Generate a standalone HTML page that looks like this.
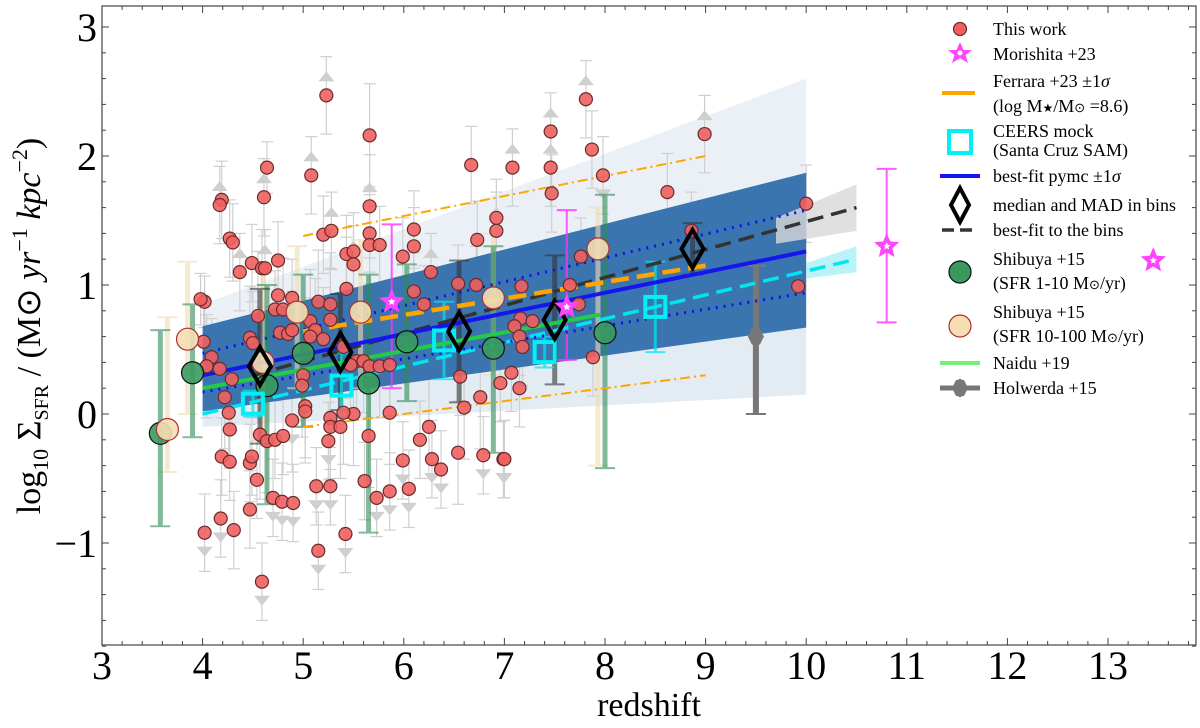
<!DOCTYPE html>
<html><head><meta charset="utf-8"><style>
html,body{margin:0;padding:0;background:#fff}
svg{display:block;font-family:"Liberation Serif","DejaVu Serif",serif}
</style></head><body>
<svg id="chart" width="1200" height="728" viewBox="0 0 1200 728" xmlns="http://www.w3.org/2000/svg">
<g id="layer"></g>
<text x="649" y="716" font-size="34" text-anchor="middle" font-family="Liberation Serif,serif">redshift</text>
<text transform="translate(40,326) rotate(-90)" font-size="34" text-anchor="middle" font-family="Liberation Serif,serif">log<tspan font-size="22" dy="8">10</tspan><tspan dy="-8"> Σ</tspan><tspan font-size="20" dy="8">SFR</tspan><tspan dy="-8"> / (M</tspan><tspan>⊙</tspan><tspan font-style="italic"> yr</tspan><tspan font-size="22" dy="-13">−1</tspan><tspan font-style="italic" dy="13"> kpc</tspan><tspan font-size="22" dy="-13">−2</tspan><tspan dy="13">)</tspan></text>
<g font-size="18" font-family="Liberation Serif,serif">
<g><circle cx="960" cy="29" r="6.5" fill="#f06060" stroke="#6b2a2a" stroke-width="1.2"/><text x="993" y="35">This work</text></g>
<g><polygon points="960,42 963.5,50 972,50 965.5,55 968,63 960,58 952,63 954.5,55 948,50 956.5,50" fill="#ff44ff"/><circle cx="960" cy="53" r="2.5" fill="#fff"/><text x="993" y="60">Morishita +23</text></g>
<g><line x1="942" x2="975" y1="93" y2="93" stroke="#ffa500" stroke-width="4"/><text x="993" y="87">Ferrara +23 ±1<tspan font-style="italic">σ</tspan></text><text x="993" y="112">(log  M<tspan font-size="12">★</tspan>/M<tspan font-size="13">⊙</tspan>  =8.6)</text></g>
<g><rect x="949" y="131" width="22" height="22" fill="none" stroke="#00f0f5" stroke-width="4"/><text x="993" y="137">CEERS mock</text><text x="993" y="156">(Santa Cruz SAM)</text></g>
<g><line x1="940" x2="980" y1="176" y2="176" stroke="#1515ee" stroke-width="4"/><text x="993" y="182">best-fit pymc ±1<tspan font-style="italic">σ</tspan></text></g>
<g><polygon points="960,188 969,205 960,222 951,205" fill="none" stroke="#000" stroke-width="4"/><text x="993" y="211">median and MAD in bins</text></g>
<g><line x1="942" x2="978" y1="230" y2="230" stroke="#333" stroke-width="3.5" stroke-dasharray="12 6"/><text x="993" y="236">best-fit to the bins</text></g>
<g><circle cx="960" cy="272" r="11" fill="#3a9a5e" stroke="#111" stroke-width="1.2"/><text x="993" y="265">Shibuya +15</text><text x="993" y="289">(SFR 1-10 M<tspan font-size="13">⊙</tspan>/yr)</text></g>
<g><circle cx="960" cy="326" r="11" fill="#f5deb3" stroke="#b03030" stroke-width="1.2"/><text x="993" y="318">Shibuya +15</text><text x="993" y="342">(SFR 10-100 M<tspan font-size="13">⊙</tspan>/yr)</text></g>
<g><line x1="940" x2="980" y1="363" y2="363" stroke="#77ee77" stroke-width="4"/><text x="993" y="369">Naidu +19</text></g>
<g><line x1="940" x2="980" y1="388" y2="388" stroke="#777" stroke-width="5"/><line x1="960" x2="960" y1="379" y2="397" stroke="#777" stroke-width="3"/><polygon points="952,388 956,380 964,380 968,388 964,396 956,396" fill="#777"/><text x="993" y="394">Holwerda +15</text></g>
</g>
</svg>
<script>
// ---- data ----
const redZ=[5.23,5.66,4.64,5.08,4.61,4.19,4.17,5.66,6.67,6.92,6.92,4.27,4.30,5.20,5.28,5.66,5.66,5.76,6.10,6.10,6.73,5.43,5.50,5.50,5.99,4.37,4.49,4.59,4.62,4.75,6.27,5.43,6.10,6.20,6.54,6.72,4.02,4.75,4.72,4.80,4.89,5.15,5.27,5.27,4.55,4.77,4.85,4.89,5.07,5.12,5.07,4.47,4.50,4.01,4.09,4.04,4.17,4.29,4.22,5.53,5.60,5.66,5.76,5.86,5.47,5.20,5.40,5.00,4.99,5.02,5.02,6.56,6.60,6.76,6.96,5.86,5.27,5.27,5.37,5.25,5.50,5.40,4.89,4.26,4.27,4.57,4.64,4.72,4.80,4.54,4.19,4.27,4.47,4.49,5.65,6.16,6.25,5.99,6.28,6.37,6.54,6.79,6.99,5.13,5.27,5.61,5.73,5.86,6.05,4.70,4.79,4.90,4.47,4.18,4.31,4.02,5.42,5.15,4.59,7.81,7.46,7.87,7.08,7.46,7.47,7.98,8.99,8.62,10.0,8.86,7.76,7.17,7.65,7.74,9.92,7.16,7.28,7.10,7.15,7.18,7.88,7.07,7.15,7.00,3.98];
const redV=[2.47,2.16,1.91,1.85,1.68,1.66,1.62,1.61,1.93,1.52,1.42,1.36,1.33,1.39,1.42,1.40,1.31,1.31,1.43,1.30,1.35,1.24,1.26,1.16,1.22,1.10,1.17,1.13,1.13,1.19,1.10,0.97,0.95,0.85,1.01,1.00,0.87,0.92,0.81,0.81,0.90,0.87,0.85,0.73,0.76,0.63,0.62,0.65,0.72,0.65,0.60,0.59,0.55,0.56,0.44,0.37,0.35,0.27,0.13,0.41,0.41,0.37,0.37,0.38,0.38,0.58,0.52,0.30,0.22,0.06,0.02,0.29,0.05,0.13,0.24,0.01,-0.03,-0.10,-0.10,-0.21,0.00,0.01,-0.05,0.01,-0.12,-0.16,-0.21,-0.20,-0.17,-0.51,-0.33,-0.37,-0.38,-0.33,-0.17,-0.20,-0.10,-0.36,-0.35,-0.43,-0.30,-0.32,-0.35,-0.56,-0.56,-0.52,-0.65,-0.60,-0.58,-0.65,-0.68,-0.69,-0.74,-0.81,-0.90,-0.92,-0.93,-1.06,-1.30,2.44,2.19,2.05,1.91,1.91,1.71,1.85,2.17,1.72,1.63,1.42,1.22,0.99,1.00,0.85,0.99,0.74,0.72,0.68,0.60,0.52,0.44,0.32,0.20,-0.35,0.89];
const redErr=[0.3,0.4,0.2,0.3,0.3,0.3,0.3,0.4,0.3,0.3,0.3,0.3,0.3,0.3,0.3,0.3,0.3,0.3,0.3,0.3,0.3,0.3,0.3,0.3,0.3,0.3,0.3,0.3,0.3,0.3,0.3,0.4,0.3,0.3,0.3,0.3,0.2,0.3,0.3,0.4,0.3,0.4,0.4,0.4,0.5,0.3,0.3,0.3,0.4,0.4,0.3,0.4,0.4,0.3,0.3,0.4,0.3,0.4,0.4,0.4,0.4,0.4,0.4,0.4,0.4,0.4,0.4,0.4,0.4,0.4,0.4,0.3,0.4,0.4,0.3,0.4,0.4,0.4,0.4,0.3,0.4,0.4,0.4,0.4,0.3,0.5,0.4,0.3,0.3,0.3,0.3,0.3,0.3,0.3,0.4,0.3,0.4,0.3,0.3,0.3,0.4,0.3,0.3,0.3,0.3,0.3,0.3,0.3,0.3,0.3,0.3,0.3,0.3,0.3,0.3,0.3,0.3,0.3,0.3,0.3,0.3,0.3,0.3,0.3,0.3,0.3,0.3,0.3,0.3,0.3,0.3,0.3,0.3,0.3,0.3,0.3,0.3,0.3,0.3,0.3,0.3,0.3,0.3,0.3,0.2,0.3,0.3,0.2];
const redLim=[1,0,0,1,1,0,1,1,0,0,1,0,0,0,1,0,0,0,0,0,0,0,0,1,0,1,0,0,1,0,1,0,0,0,1,0,0,0,0,0,0,0,0,0,0,0,0,0,0,0,0,0,0,0,0,0,0,0,0,0,0,0,0,0,0,0,0,0,0,0,0,0,0,0,0,0,0,0,0,-1,0,0,-1,0,0,0,0,0,0,0,0,0,0,0,0,0,0,-1,-1,-1,0,-1,-1,-1,-1,0,-1,-1,-1,-1,-1,-1,0,-1,0,-1,-1,-1,-1,1,1,0,1,1,0,-1,1,0,0,0,0,0,0,0,0,0,0,0,0,0,0,0,0,-1,0];
const binZ=[4.57,5.37,6.55,7.50,8.87];
const binV=[0.37,0.48,0.64,0.73,1.28];
const binErr=[0.6,0.45,0.55,0.5,0.2];
const ceersZ=[4.50,5.38,6.40,7.40,8.50];
const ceersV=[0.08,0.22,0.57,0.48,0.83];
const ceersErr=[0.1,0.25,0.3,0.12,0.35];
const shibGZ=[3.58,3.90,4.64,5.00,5.65,6.03,6.89,8.00];
const shibGV=[-0.15,0.32,0.22,0.47,0.24,0.56,0.51,0.63];
const shibGHi=[0.65,0.85,1.00,1.08,1.08,1.16,1.30,1.70];
const shibGLo=[-0.87,-0.18,-0.70,-0.10,-0.92,0.10,-0.30,-0.42];
const shibBZ=[3.65,3.85,4.60,4.94,5.57,6.89,7.93];
const shibBV=[-0.12,0.58,0.40,0.79,0.79,0.90,1.28];
const shibBHi=[0.75,1.18,1.10,1.30,1.35,1.40,1.60];
const shibBLo=[-0.45,0.00,-0.20,0.20,0.20,0.30,-0.40];
const moriZ=[5.88,7.62,10.8,13.45];
const moriV=[0.87,0.83,1.30,1.19];
const moriHi=[1.47,1.58,1.90,1.19];
const moriLo=[0.20,0.42,0.71,1.19];
const holZ=[9.5];const holV=[0.6];const holHi=[1.15];const holLo=[0.0];
const pymcZ=[4,10];const pymcV=[0.30,1.26];const pymcUp=[0.47,1.58];const pymcLo=[0.17,0.94];
const bandZ=[4,10];const bandTop=[0.68,1.87];const bandBot=[0.02,0.67];const haloTop=[0.85,2.6];const haloBot=[-0.1,0.15];
const binFitZ=[4.5,10.5];const binFitV=[0.30,1.60];
const ceersFitZ=[4.0,10.5];const ceersFitV=[0.00,1.20];
const naiduZ=[4.0,7.95];const naiduV=[0.20,0.77];
const ferZ=[5.0,9.0];const ferV=[0.64,1.15];const ferHi=[1.38,2.0];const ferLo=[-0.10,0.30];
const xTicks=[3,4,5,6,7,8,9,10,11,12,13];
const yTicks=[-1,0,1,2,3];

// ---- axes ----
const L=102,R=1196,T=6,B=645;
const X=z=>L+(z-3)*100.6;
const Y=v=>414-v*129;
const NS='http://www.w3.org/2000/svg';
const g=document.getElementById('layer');
function mk(tag,attrs,parent){const e=document.createElementNS(NS,tag);for(const k in attrs)e.setAttribute(k,attrs[k]);(parent||g).appendChild(e);return e;}

const bz0=X(bandZ[0]),bz1=X(bandZ[1]);
const halo1=mk('polygon',{points:`${bz0},${Y(haloTop[0])} ${bz1},${Y(haloTop[1])} ${bz1},${Y(bandTop[1])} ${bz0},${Y(bandTop[0])}`,fill:'#b8cde0',opacity:0.3});


const halo2=mk('polygon',{points:`${bz0},${Y(bandBot[0])} ${bz1},${Y(bandBot[1])} ${bz1},${Y(haloBot[1])} ${bz0},${Y(haloBot[0])}`,fill:'#b8cde0',opacity:0.4});



const gErr=mk('g',{});


redZ.forEach((z,i)=>{
  const x=X(z),y1=Y(redV[i]+redErr[i]),y2=Y(redV[i]-redErr[i]);
  mk('line',{x1:x,x2:x,y1:y1,y2:y2,stroke:'#cfcfcf','stroke-width':1.2},gErr);
  mk('line',{x1:x-6,x2:x+6,y1:y1,y2:y1,stroke:'#cfcfcf','stroke-width':1.2},gErr);
  mk('line',{x1:x-6,x2:x+6,y1:y2,y2:y2,stroke:'#cfcfcf','stroke-width':1.2},gErr);
  if(redLim[i]!==0){const d=redLim[i];const y=Y(redV[i]);
    mk('polygon',{points:`${x-8},${y-d*14} ${x+8},${y-d*14} ${x},${y-d*24}`,fill:'#cfcfcf'},gErr);}
});

const band=mk('polygon',{points:`${bz0},${Y(bandTop[0])} ${bz1},${Y(bandTop[1])} ${bz1},${Y(bandBot[1])} ${bz0},${Y(bandBot[0])}`,fill:'#3b75af'});



const gb=mk('polygon',{points:`${X(9.7)},${Y(1.42+0.1)} ${X(10.5)},${Y(1.6+0.18)} ${X(10.5)},${Y(1.6-0.18)} ${X(9.7)},${Y(1.42-0.1)}`,fill:'#d8d8d8',opacity:0.8});


const cb=mk('polygon',{points:`${X(10)},${Y(1.11+0.06)} ${X(10.5)},${Y(1.2+0.1)} ${X(10.5)},${Y(1.2-0.1)} ${X(10)},${Y(1.11-0.06)}`,fill:'#a8f0f5',opacity:0.8});



function ebar(z,hi,lo,color,w,op,name){
  const x=X(z);
  const e=mk('g',{opacity:op});
  
  
  mk('line',{x1:x,x2:x,y1:Y(hi),y2:Y(lo),stroke:color,'stroke-width':w},e);
  mk('line',{x1:x-10,x2:x+10,y1:Y(hi),y2:Y(hi),stroke:color,'stroke-width':2},e);
  mk('line',{x1:x-10,x2:x+10,y1:Y(lo),y2:Y(lo),stroke:color,'stroke-width':2},e);
}
shibBZ.forEach((z,i)=>ebar(z,shibBHi[i],shibBLo[i],'#f3dcb0',5,0.6,'shibuya-high-errbar'));
shibGZ.forEach((z,i)=>ebar(z,shibGHi[i],shibGLo[i],'#2e8b57',5,0.6,'shibuya-low-errbar'));
binZ.forEach((z,i)=>ebar(z,binV[i]+binErr[i],binV[i]-binErr[i],'#333',5,0.6,'bin-mad-errbar'));
ceersZ.forEach((z,i)=>ebar(z,ceersV[i]+ceersErr[i],ceersV[i]-ceersErr[i],'#00e5f0',3,0.7,'ceers-errbar'));
moriZ.forEach((z,i)=>{if(moriHi[i]>moriLo[i])ebar(z,moriHi[i],moriLo[i],'#ff33ff',2,0.8,'morishita-errbar');});
holZ.forEach((z,i)=>ebar(z,holHi[i],holLo[i],'#777',6,1,'holwerda-errbar'));

function ln(zs,vs,color,w,dash,name,op){
  const e=mk('line',{x1:X(zs[0]),y1:Y(vs[0]),x2:X(zs[1]),y2:Y(vs[1]),stroke:color,'stroke-width':w,'stroke-dasharray':dash||'none',opacity:op||1});
  
  
}
ln(ferZ,ferHi,'#ffa500',2,'10 4 2 4','ferrara-upper-sigma');
ln(ferZ,ferLo,'#ffa500',2,'10 4 2 4','ferrara-lower-sigma');
ln(naiduZ,naiduV,'#22cc44',4,'','naidu-line');
ln(ceersFitZ,ceersFitV,'#00e5f0',3.5,'16 8','ceers-fit-line');
ln(binFitZ,binFitV,'#333',3.5,'16 8','bin-fit-line');
ln(pymcZ,pymcUp,'#1010ee',3,'2 6','pymc-upper-sigma');
ln(pymcZ,pymcLo,'#1010ee',3,'2 6','pymc-lower-sigma');
ln(pymcZ,pymcV,'#1515ee',4,'','pymc-best-fit');
ln(ferZ,ferV,'#ffa500',4.5,'18 8','ferrara-line');

const gPts=mk('g',{});


redZ.forEach((z,i)=>{
  const c=mk('circle',{cx:X(z),cy:Y(redV[i]),r:6.5,fill:'#f06060','fill-opacity':0.9,stroke:'#6b2a2a','stroke-width':1.2},gPts);
  
  
});

shibGZ.forEach((z,i)=>{
  const c=mk('ellipse',{cx:X(z),cy:Y(shibGV[i]),rx:11,ry:11,fill:'#3a9a5e','fill-opacity':0.9,stroke:'#111','stroke-width':1.2});
  
  
});
shibBZ.forEach((z,i)=>{
  const c=mk('ellipse',{cx:X(z),cy:Y(shibBV[i]),rx:11,ry:11,fill:'#f5deb3','fill-opacity':0.9,stroke:'#b03030','stroke-width':1.2});
  
  
});

ceersZ.forEach((z,i)=>{
  const s=mk('rect',{x:X(z)-10,y:Y(ceersV[i])-10,width:20,height:20,fill:'none',stroke:'#00f0f5','stroke-width':4});
  
  
});

binZ.forEach((z,i)=>{
  const x=X(z),y=Y(binV[i]);
  const d=mk('polygon',{points:`${x},${y-19} ${x+11},${y} ${x},${y+19} ${x-11},${y}`,fill:'none',stroke:'#000','stroke-width':4});
  
  
});

holZ.forEach((z,i)=>{
  const x=X(z),y=Y(holV[i]);
  const h=mk('polygon',{points:`${x-8},${y} ${x-4},${y-8} ${x+4},${y-8} ${x+8},${y} ${x+4},${y+8} ${x-4},${y+8}`,fill:'#777'});
  
  
});

function star(cx,cy,r){let p=[];for(let k=0;k<10;k++){const a=-Math.PI/2+k*Math.PI/5;const rr=k%2?r*0.45:r;p.push((cx+rr*Math.cos(a)).toFixed(1)+','+(cy+rr*Math.sin(a)).toFixed(1));}return p.join(' ');}
moriZ.forEach((z,i)=>{
  const s=mk('polygon',{points:star(X(z),Y(moriV[i]),12),fill:'#ff44ff',stroke:'#ff44ff','stroke-width':1});
  
  
  mk('polygon',{points:star(X(z),Y(moriV[i]),4),fill:'#fff'});
});

const fr=mk('rect',{x:L,y:T,width:R-L,height:B-T,fill:'none',stroke:'#444','stroke-width':1.2});


for(let k=0;k<=54;k++){const z=3+k*0.2;const x=X(z);const maj=k%5===0;const len=maj?7:4;
  mk('line',{x1:x,x2:x,y1:B,y2:B-len,stroke:'#444','stroke-width':1});
  mk('line',{x1:x,x2:x,y1:T,y2:T+len,stroke:'#444','stroke-width':1});}
for(let k=-9;k<=15;k++){const v=k*0.2;const y=Y(v);const maj=k%5===0;const len=maj?7:4;
  mk('line',{x1:L,x2:L+len,y1:y,y2:y,stroke:'#444','stroke-width':1});
  mk('line',{x1:R,x2:R-len,y1:y,y2:y,stroke:'#444','stroke-width':1});}
xTicks.forEach(t=>{const e=mk('text',{x:X(t),y:679,'font-size':40,'text-anchor':'middle'});e.textContent=t;
  });
yTicks.forEach(t=>{const e=mk('text',{x:97,y:Y(t)+14,'font-size':40,'text-anchor':'end'});e.textContent=t<0?'\u2212'+(-t):t;
  });
</script>
</body></html>
